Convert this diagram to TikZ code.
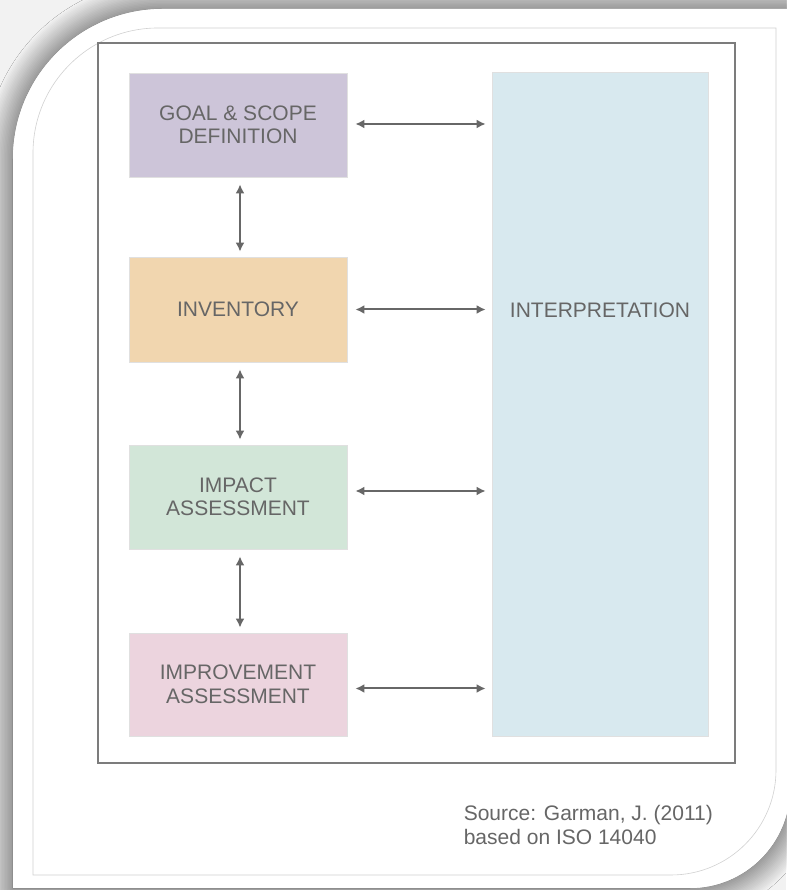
\documentclass[tikz,border=0pt]{standalone}
\usepackage{fontspec}
\setmainfont{Liberation Sans}
\usetikzlibrary{arrows.meta,shadows.blur}
\definecolor{goalc}{HTML}{CDC5D9}
\definecolor{invc}{HTML}{F1D6AF}
\definecolor{impc}{HTML}{D2E6D8}
\definecolor{impvc}{HTML}{ECD4DE}
\definecolor{intc}{HTML}{D8E9EF}
\definecolor{txtgray}{HTML}{666666}
\definecolor{arrgray}{HTML}{676767}
\definecolor{framegray}{HTML}{7C7C7C}
\definecolor{bgc}{HTML}{F2F2F2}
\tikzset{
  stage/.style={rectangle, minimum width=218pt, minimum height=104pt, inner sep=0pt,
    align=center, text=txtgray, font=\fontsize{21}{23.5}\selectfont,
    draw=black!12, line width=0.8pt},
  link/.style={{Latex[length=9pt,width=9pt]}-{Latex[length=9pt,width=9pt]},
    draw=arrgray, line width=2pt},
  hlink/.style={link, shorten <=8pt, shorten >=6pt},
  vlink/.style={link, shorten <=7pt, shorten >=5pt},
  frameline/.style={draw=framegray, line width=2.5pt},
  faint/.style={draw=black!18, line width=0.6pt}
}
\begin{document}
\begin{tikzpicture}[x=1pt,y=1pt]
\useasboundingbox (0,0) rectangle (786,890);
\fill[bgc] (0,0) rectangle (786,890);
% card with shadow
\fill[white, blur shadow={shadow blur radius=28pt, shadow xshift=0pt, shadow yshift=0pt, shadow opacity=75, shadow blur steps=20}]
  (13,2) -- (13,731) arc[start angle=180, end angle=90, radius=150] -- (790,881)
  -- (790,102) arc[start angle=0, end angle=-90, radius=100] -- cycle;
\fill[white]
  (13,2) -- (13,731) arc[start angle=180, end angle=90, radius=150] -- (790,881)
  -- (790,102) arc[start angle=0, end angle=-90, radius=100] -- cycle;
% inner faint outline
\draw[faint] (33,15) -- (33,737) arc[start angle=180, end angle=90, radius=125]
  -- (776,862) -- (776,120) arc[start angle=0, end angle=-90, radius=105] -- cycle;
% outer frame
\draw[frameline] (98,127) rectangle (735,847);
% nodes
\node[stage, fill=goalc] (goal) at (238,765) {GOAL \& SCOPE\\DEFINITION};
\node[stage, fill=invc, minimum height=105pt] (inv) at (238,580.5) {INVENTORY};
\node[stage, fill=impc] (imp) at (238,393) {IMPACT\\ASSESSMENT};
\node[stage, fill=impvc, minimum height=103pt] (impv) at (238,205.5) {IMPROVEMENT\\ASSESSMENT};
\node[stage, fill=intc, minimum width=216pt, minimum height=664pt] (interp) at (600,486) {};
\node[text=txtgray, font=\fontsize{21}{23.5}\selectfont] (interptext) at (600,580) {INTERPRETATION};
% connectors
\draw[hlink] ([yshift=1pt]goal.east) -- ([yshift=1pt]goal.east -| interp.west);
\draw[hlink] (inv.east) -- (inv.east -| interp.west);
\draw[hlink] ([yshift=6pt]imp.east) -- ([yshift=6pt]imp.east -| interp.west);
\draw[hlink] ([yshift=-4pt]impv.east) -- ([yshift=-4pt]impv.east -| interp.west);
\draw[vlink] ([xshift=2pt]goal.south) -- ([xshift=2pt]inv.north);
\draw[vlink] ([xshift=2pt]inv.south) -- ([xshift=2pt]imp.north);
\draw[vlink] ([xshift=2pt]imp.south) -- ([xshift=2pt]impv.north);
% source
\node[anchor=north east, align=left, text=txtgray, font=\fontsize{21}{24}\selectfont, inner sep=0pt] (src) at (713,85)
  {Source: Garman, J. (2011)\\based on ISO 14040};
\end{tikzpicture}
\end{document}
